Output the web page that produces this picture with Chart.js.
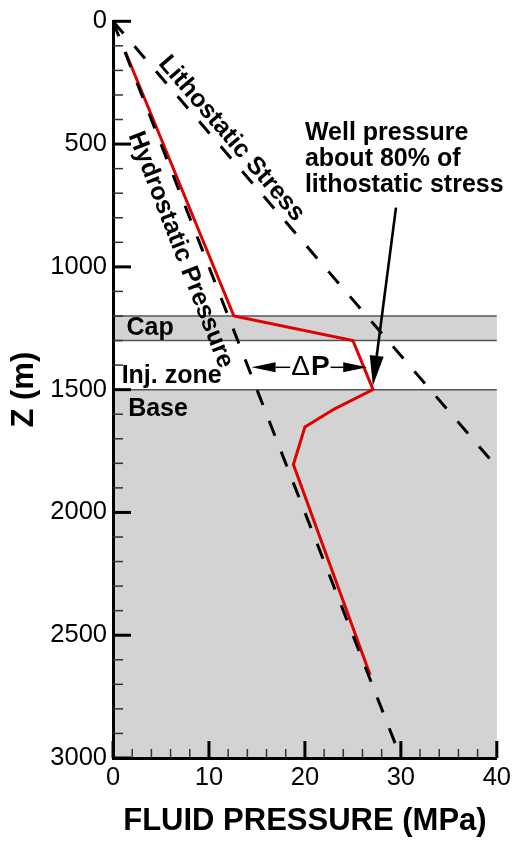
<!DOCTYPE html>
<html>
<head>
<meta charset="utf-8">
<script src="https://cdn.jsdelivr.net/npm/chart.js@4/dist/chart.umd.min.js"></script>
<style>
html,body{margin:0;padding:0;background:#fff;}
#wrap{width:516px;height:844px;}
</style>
</head>
<body>
<div id="wrap"><canvas id="c" width="516" height="844"></canvas></div>
<script>
// ---- data ----
const xTickValues = [0, 10, 20, 30, 40];
const yTickValues = [0, 500, 1000, 1500, 2000, 2500, 3000];
const hydroPressure = [0, 30];
const hydroDepth = [0, 3000];
const lithoPressure = [0, 40];
const lithoDepth = [0, 1815];
const wellPressure = [1.3, 12.6, 25.0, 27.1, 23.1, 20.0, 18.8, 26.8];
const wellDepth = [125, 1200, 1300, 1500, 1578, 1652, 1805, 2662];
const layerNames = ['Cap', 'Inj. zone', 'Base'];
const layerTop = [1200, 1300, 1500];
const layerBottom = [1300, 1500, 3000];
const layerShaded = [true, false, true];
const deltaPFrom = 14.44;   // hydrostatic side (MPa)
const deltaPTo = 26.49;     // well side (MPa)
const deltaPDepth = 1409;

const FONT = "'Liberation Sans', Arial, Helvetica, sans-serif";
const pts = (xs, ys) => xs.map((v, i) => ({x: v, y: ys[i]}));

// label anchors (data coordinates)
const layerLabelPos = [[1.4, 1250], [0.9, 1443], [1.58, 1579]];
const lithoLabelPos = [12.35, 478];
const hydroLabelPos = [7.03, 931];
const wellNoteLines = ['Well pressure', 'about 80% of', 'lithostatic stress'];
const wellNotePos = [20.0, 485];
const wellArrowFrom = [29.49, 759];
const wellArrowTo = [27.08, 1484];

function arrow(ctx, x0, y0, x1, y1, headLen, headHalf, lw) {
  const ang = Math.atan2(y1 - y0, x1 - x0);
  const bx = x1 - headLen * Math.cos(ang), by = y1 - headLen * Math.sin(ang);
  ctx.lineWidth = lw;
  ctx.beginPath(); ctx.moveTo(x0, y0); ctx.lineTo(bx, by); ctx.stroke();
  ctx.beginPath();
  ctx.moveTo(x1, y1);
  ctx.lineTo(bx + headHalf * Math.sin(ang), by - headHalf * Math.cos(ang));
  ctx.lineTo(bx - headHalf * Math.sin(ang), by + headHalf * Math.cos(ang));
  ctx.closePath(); ctx.fill();
}

const layersPlugin = {
  id: 'layers',
  beforeDraw(chart) {
    const {ctx, chartArea: a, scales: {y}} = chart;
    ctx.save();
    ctx.fillStyle = '#d3d3d3';
    for (let i = 0; i < layerNames.length; i++) {
      if (!layerShaded[i]) continue;
      const t = y.getPixelForValue(layerTop[i]), b = y.getPixelForValue(layerBottom[i]);
      ctx.fillRect(a.left, t, a.right - a.left, b - t);
    }
    ctx.strokeStyle = '#555';
    ctx.lineWidth = 1.5;
    for (const z of layerTop) {
      const p = y.getPixelForValue(z);
      ctx.beginPath(); ctx.moveTo(a.left, p); ctx.lineTo(a.right, p); ctx.stroke();
    }
    ctx.restore();
  }
};

const annotPlugin = {
  id: 'annot',
  afterDatasetsDraw(chart) {
    const {ctx, scales: {x, y}} = chart;
    const px = v => x.getPixelForValue(v), py = v => y.getPixelForValue(v);
    ctx.save();
    ctx.fillStyle = '#000'; ctx.strokeStyle = '#000';
    // layer labels
    ctx.font = 'bold 25px ' + FONT;
    ctx.textAlign = 'left'; ctx.textBaseline = 'middle';
    layerNames.forEach((n, i) => ctx.fillText(n, px(layerLabelPos[i][0]), py(layerLabelPos[i][1])));
    // rotated line labels
    const rotLabel = (txt, pos, xs, ys) => {
      const ang = Math.atan2(py(ys[1]) - py(ys[0]), px(xs[1]) - px(xs[0]));
      ctx.save();
      ctx.translate(px(pos[0]), py(pos[1]));
      ctx.rotate(ang);
      ctx.font = 'bold 25px ' + FONT;
      ctx.textAlign = 'center'; ctx.textBaseline = 'middle';
      ctx.fillText(txt, 0, 0);
      ctx.restore();
    };
    rotLabel('Lithostatic Stress', lithoLabelPos, lithoPressure, lithoDepth);
    rotLabel('Hydrostatic Pressure', hydroLabelPos, hydroPressure, hydroDepth);
    // well note
    ctx.font = 'bold 25px ' + FONT;
    ctx.textAlign = 'left'; ctx.textBaseline = 'alphabetic';
    wellNoteLines.forEach((l, i) => ctx.fillText(l, px(wellNotePos[0]), py(wellNotePos[1]) + i * 25.7));
    arrow(ctx, px(wellArrowFrom[0]), py(wellArrowFrom[1]), px(wellArrowTo[0]), py(wellArrowTo[1]), 30, 7, 2.6);
    // delta P
    const yy = py(deltaPDepth);
    const l = px(deltaPFrom), r = px(deltaPTo);
    const cx = (l + r) / 2 + 1;
    ctx.font = '28px ' + FONT;
    const wD = ctx.measureText('\u0394').width;
    ctx.font = 'bold 28px ' + FONT;
    const wP = ctx.measureText('P').width;
    const tl = cx - (wD + wP + 1) / 2;
    ctx.textBaseline = 'middle'; ctx.textAlign = 'left';
    ctx.font = '28px ' + FONT;
    ctx.fillText('\u0394', tl, yy);
    ctx.font = 'bold 28px ' + FONT;
    ctx.fillText('P', tl + wD + 1, yy);
    arrow(ctx, tl - 1, yy, l, yy, 24, 5, 1.5);
    arrow(ctx, tl + wD + wP + 2, yy, r, yy, 24, 5, 1.5);
    ctx.restore();
  }
};

const ticksPlugin = {
  id: 'inTicks',
  afterDraw(chart) {
    const {ctx, chartArea: a, scales: {x, y}} = chart;
    ctx.save();
    for (let v = x.min; v <= x.max + 1e-9; v += 2) {
      const major = Math.abs(v % 10) < 1e-9;
      const p = x.getPixelForValue(v);
      ctx.strokeStyle = major ? '#000' : '#333';
      ctx.lineWidth = major ? 3 : 1.5;
      ctx.beginPath(); ctx.moveTo(p, a.bottom); ctx.lineTo(p, a.bottom - (major ? 17 : 9)); ctx.stroke();
    }
    for (let v = y.min; v <= y.max + 1e-9; v += 100) {
      const major = Math.abs(v % 500) < 1e-9;
      const p = y.getPixelForValue(v);
      ctx.strokeStyle = major ? '#000' : '#333';
      ctx.lineWidth = major ? 3 : 1.5;
      ctx.beginPath(); ctx.moveTo(a.left, p); ctx.lineTo(a.left + (major ? 18 : 10), p); ctx.stroke();
    }
    ctx.restore();
  }
};

const dashed = {borderColor: '#000', borderWidth: 3, borderDash: [16, 17], pointRadius: 0, showLine: true, fill: false};

new Chart(document.getElementById('c'), {
  type: 'scatter',
  data: {
    datasets: [
      Object.assign({label: 'Hydrostatic Pressure', data: pts(hydroPressure, hydroDepth)}, dashed),
      Object.assign({label: 'Lithostatic Stress', data: pts(lithoPressure, lithoDepth)}, dashed),
      {label: 'Well pressure', data: pts(wellPressure, wellDepth), borderColor: '#e00000', borderWidth: 3,
       pointRadius: 0, showLine: true, fill: false, tension: 0}
    ]
  },
  options: {
    responsive: false,
    animation: false,
    devicePixelRatio: 1,
    layout: {padding: {top: 20, right: 16, left: 0, bottom: 0}},
    plugins: {legend: {display: false}, tooltip: {enabled: false}},
    scales: {
      x: {
        type: 'linear', position: 'bottom', min: 0, max: 40,
        afterBuildTicks: s => { s.ticks = xTickValues.map(v => ({value: v})); },
        afterFit: s => { s.height = 86; },
        ticks: {color: '#000', font: {family: FONT, size: 25.5}, padding: 5, maxRotation: 0,
                callback: v => String(v)},
        grid: {display: false, drawTicks: false},
        border: {display: true, color: '#000', width: 3},
        title: {display: true, text: 'FLUID PRESSURE (MPa)', color: '#000',
                font: {family: FONT, size: 31, weight: 'bold'}, padding: {top: 0, bottom: 4}}
      },
      y: {
        type: 'linear', position: 'left', min: 0, max: 3000, reverse: true,
        afterBuildTicks: s => { s.ticks = yTickValues.map(v => ({value: v})); },
        afterFit: s => { s.width = 113; },
        ticks: {color: '#000', font: {family: FONT, size: 25.5}, padding: 6,
                callback: v => String(v)},
        grid: {display: false, drawTicks: false},
        border: {display: true, color: '#000', width: 3},
        title: {display: true, text: 'Z (m)', color: '#000',
                font: {family: FONT, size: 31, weight: 'bold'}, padding: {top: 6, bottom: 0}}
      }
    }
  },
  plugins: [layersPlugin, annotPlugin, ticksPlugin]
});
</script>
</body>
</html>
